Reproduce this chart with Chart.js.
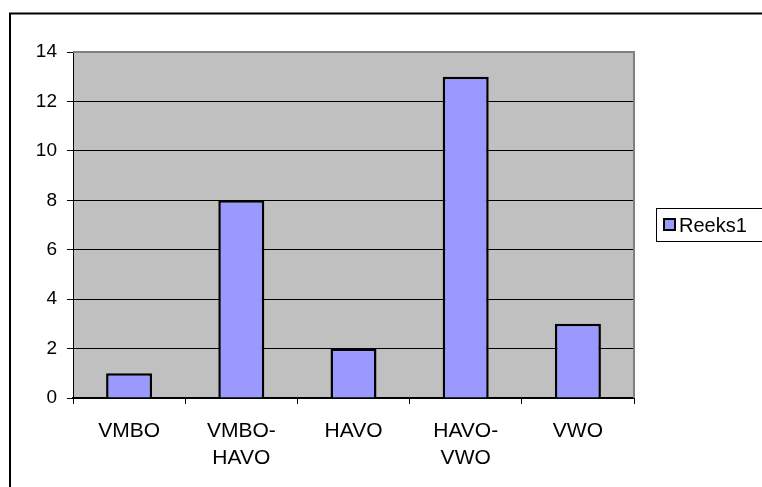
<!DOCTYPE html>
<html>
<head>
<meta charset="utf-8">
<script src="https://cdn.jsdelivr.net/npm/chart.js@4/dist/chart.umd.min.js"></script>
<style>
  body { margin: 0; background: #fff; }
  canvas { display: block; }
</style>
</head>
<body>
<canvas id="chart" width="762" height="487"></canvas>
<script>
// data
var categories = [['VMBO'], ['VMBO-', 'HAVO'], ['HAVO'], ['HAVO-', 'VWO'], ['VWO']];
var seriesName = 'Reeks1';
var seriesValues = [1, 8, 2, 13, 3];
var yMax = 14;
var yStep = 2;

var FONT = "'Liberation Sans', Arial, sans-serif";

// grey plot area, outer frame and the boxed legend
var excelLook = {
  id: 'excelLook',
  beforeDraw: function(chart) {
    var ctx = chart.ctx, a = chart.chartArea;
    ctx.save();
    ctx.fillStyle = '#fff';
    ctx.fillRect(0, 0, chart.width, chart.height);
    ctx.strokeStyle = '#000';
    ctx.lineWidth = 2;
    ctx.strokeRect(10, 13.5, 900, 700);
    ctx.fillStyle = '#C0C0C0';
    ctx.fillRect(a.left, a.top, a.right - a.left, a.bottom - a.top);
    ctx.restore();
  },
  afterDatasetsDraw: function(chart) {
    var ctx = chart.ctx, a = chart.chartArea;
    ctx.save();
    ctx.strokeStyle = '#808080';
    ctx.lineWidth = 2;
    ctx.beginPath();
    ctx.moveTo(a.left, a.top);
    ctx.lineTo(a.right, a.top);
    ctx.lineTo(a.right, a.bottom);
    ctx.stroke();
    ctx.restore();
  },
  afterDraw: function(chart) {
    var ctx = chart.ctx;
    var ds = chart.data.datasets[0];
    ctx.save();
    ctx.strokeStyle = '#000';
    ctx.lineWidth = 1;
    ctx.strokeRect(656.5, 208.5, 200, 33);
    ctx.fillStyle = ds.backgroundColor;
    ctx.fillRect(664, 219, 11, 11);
    ctx.lineWidth = 2;
    ctx.strokeRect(664, 219, 11, 11);
    ctx.fillStyle = '#000';
    ctx.font = '20px ' + FONT;
    ctx.textBaseline = 'middle';
    ctx.fillText(ds.label, 679, 226);
    ctx.restore();
  }
};

new Chart(document.getElementById('chart'), {
  type: 'bar',
  data: {
    labels: categories,
    datasets: [{
      label: seriesName,
      data: seriesValues,
      backgroundColor: '#9999FF',
      borderColor: '#000',
      borderWidth: 2.5,
      barPercentage: 0.41,
      categoryPercentage: 1
    }]
  },
  options: {
    responsive: false,
    animation: false,
    layout: { padding: { left: 0, top: 52, right: 128, bottom: 0 } },
    plugins: { legend: { display: false }, tooltip: { enabled: false } },
    scales: {
      x: {
        offset: true,
        afterFit: function(s) { s.height = 89; },
        grid: { offset: true, drawOnChartArea: false, drawTicks: true, tickLength: 6, tickColor: '#000' },
        border: { color: '#000', width: 2 },
        ticks: { color: '#000', padding: 14, maxRotation: 0, autoSkip: false,
                 font: { family: FONT, size: 21, lineHeight: 1.27 } }
      },
      y: {
        min: 0,
        max: yMax,
        afterFit: function(s) { s.width = 73; },
        grid: {
          color: function(c) { return c.tick && c.tick.value === yMax ? '#808080' : '#000'; },
          tickColor: '#000',
          tickLength: 6,
          lineWidth: 1
        },
        border: { color: '#000', width: 1 },
        ticks: { stepSize: yStep, color: '#000', padding: 10,
                 font: { family: FONT, size: 19 } }
      }
    }
  },
  plugins: [excelLook]
});
</script>
</body>
</html>
